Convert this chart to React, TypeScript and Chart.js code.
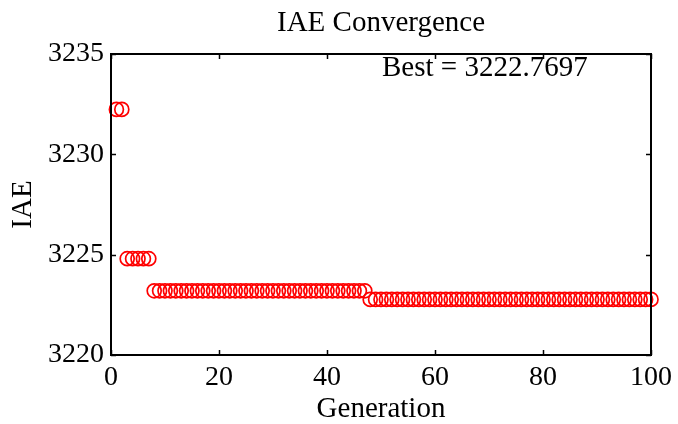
import React, { useEffect, useRef } from "react";
import { Chart, registerables } from "chart.js";

Chart.register(...registerables);

// Best IAE value found at each generation (generations 1..100)
const iaeValues: number[] = [
  3232.24, 3232.24,
  3224.8, 3224.8, 3224.8, 3224.8, 3224.8,
  3223.2, 3223.2, 3223.2, 3223.2, 3223.2, 3223.2, 3223.2, 3223.2, 3223.2, 3223.2,
  3223.2, 3223.2, 3223.2, 3223.2, 3223.2, 3223.2, 3223.2, 3223.2, 3223.2, 3223.2,
  3223.2, 3223.2, 3223.2, 3223.2, 3223.2, 3223.2, 3223.2, 3223.2, 3223.2, 3223.2,
  3223.2, 3223.2, 3223.2, 3223.2, 3223.2, 3223.2, 3223.2, 3223.2, 3223.2, 3223.2,
  3222.7697, 3222.7697, 3222.7697, 3222.7697, 3222.7697, 3222.7697, 3222.7697,
  3222.7697, 3222.7697, 3222.7697, 3222.7697, 3222.7697, 3222.7697, 3222.7697,
  3222.7697, 3222.7697, 3222.7697, 3222.7697, 3222.7697, 3222.7697, 3222.7697,
  3222.7697, 3222.7697, 3222.7697, 3222.7697, 3222.7697, 3222.7697, 3222.7697,
  3222.7697, 3222.7697, 3222.7697, 3222.7697, 3222.7697, 3222.7697, 3222.7697,
  3222.7697, 3222.7697, 3222.7697, 3222.7697, 3222.7697, 3222.7697, 3222.7697,
  3222.7697, 3222.7697, 3222.7697, 3222.7697, 3222.7697, 3222.7697, 3222.7697,
  3222.7697, 3222.7697, 3222.7697, 3222.7697, 3222.7697,
];
const generations: number[] = iaeValues.map((_, i) => i + 1);

const bestValue = 3222.7697;
const titleText = "IAE Convergence";
const xAxisTitle = "Generation";
const yAxisTitle = "IAE";
const xTicks: number[] = [0, 20, 40, 60, 80, 100];
const yTicks: number[] = [3220, 3225, 3230, 3235];

const FONT = '"Liberation Serif", "Times New Roman", serif';

// Box frame with inward ticks plus titles, drawn in MATLAB style
const framePlugin = {
  id: "matlabFrame",
  afterDraw(chart: any) {
    const { ctx, chartArea: a, scales } = chart;
    const xs = scales.x;
    const ys = scales.y;
    ctx.save();
    ctx.strokeStyle = "#000";
    ctx.lineWidth = 2;
    ctx.strokeRect(a.left, a.top, a.right - a.left, a.bottom - a.top);
    ctx.lineWidth = 1.5;
    const tl = 5;
    ctx.beginPath();
    for (const v of xTicks) {
      const px = Math.round(xs.getPixelForValue(v)) + 0.5;
      ctx.moveTo(px, a.bottom);
      ctx.lineTo(px, a.bottom - tl);
      ctx.moveTo(px, a.top);
      ctx.lineTo(px, a.top + tl);
    }
    for (const v of yTicks) {
      const py = Math.round(ys.getPixelForValue(v)) + 0.5;
      ctx.moveTo(a.left, py);
      ctx.lineTo(a.left + tl, py);
      ctx.moveTo(a.right, py);
      ctx.lineTo(a.right - tl, py);
    }
    ctx.stroke();

    ctx.fillStyle = "#000";
    ctx.font = `29px ${FONT}`;
    ctx.textBaseline = "alphabetic";
    ctx.textAlign = "center";
    ctx.fillText(titleText, (a.left + a.right) / 2, 31);
    ctx.fillText(xAxisTitle, (a.left + a.right) / 2, 417);

    ctx.textAlign = "left";
    ctx.fillText(`Best = ${bestValue.toFixed(4)}`, 382, 76);

    ctx.save();
    ctx.translate(31, (a.top + a.bottom) / 2);
    ctx.rotate(-Math.PI / 2);
    ctx.textAlign = "center";
    ctx.fillText(yAxisTitle, 0, 0);
    ctx.restore();
    ctx.restore();
  },
};

export default function App() {
  const canvasRef = useRef<HTMLCanvasElement | null>(null);

  useEffect(() => {
    const canvas = canvasRef.current;
    if (!canvas) return;
    const chart = new Chart(canvas, {
      type: "scatter",
      data: {
        datasets: [
          {
            data: generations.map((g, i) => ({ x: g, y: iaeValues[i] })),
            pointStyle: "circle",
            pointRadius: 7,
            pointHoverRadius: 7,
            borderColor: "#ff0000",
            backgroundColor: "rgba(0,0,0,0)",
            borderWidth: 1.7,
            clip: false as any,
          },
        ],
      },
      options: {
        responsive: false,
        animation: false,
        devicePixelRatio: 1,
        layout: { padding: { top: 54, right: 26, left: 0, bottom: 0 } },
        plugins: {
          legend: { display: false },
          title: { display: false },
          tooltip: { enabled: false },
        },
        scales: {
          x: {
            type: "linear",
            min: 0,
            max: 100,
            afterBuildTicks: (s: any) => {
              s.ticks = xTicks.map((v) => ({ value: v }));
            },
            afterFit: (s: any) => {
              s.height = 69;
            },
            ticks: {
              font: { family: FONT, size: 28 },
              color: "#000",
              padding: 6,
              maxRotation: 0,
            },
            grid: { display: false, drawTicks: false },
            border: { display: false },
          },
          y: {
            type: "linear",
            min: 3220,
            max: 3235,
            afterBuildTicks: (s: any) => {
              s.ticks = yTicks.map((v) => ({ value: v }));
            },
            afterFit: (s: any) => {
              s.width = 111;
            },
            ticks: {
              font: { family: FONT, size: 28 },
              color: "#000",
              padding: 7,
              callback: (v: any) => String(v),
            },
            grid: { display: false, drawTicks: false },
            border: { display: false },
          },
        },
      },
      plugins: [framePlugin],
    });
    return () => chart.destroy();
  }, []);

  return (
    <div style={{ position: "fixed", left: 0, top: 0, width: 678, height: 424, background: "#fff" }}>
      <canvas ref={canvasRef} width={678} height={424} />
    </div>
  );
}
